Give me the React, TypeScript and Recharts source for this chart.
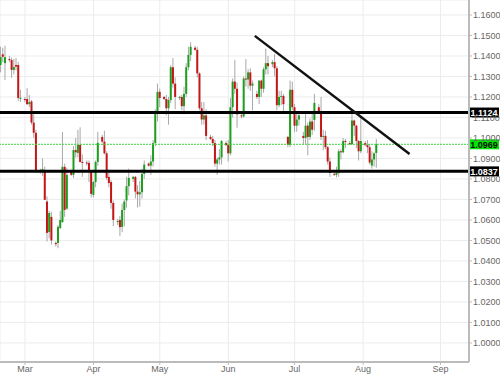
import React from 'react';
import {
  ComposedChart, Bar, XAxis, YAxis, CartesianGrid, ReferenceLine,
} from 'recharts';

// EUR/USD daily candles (incl. short Sunday sessions)
const dates = [
  '2015-02-18', '2015-02-19', '2015-02-20', '2015-02-22', '2015-02-23', '2015-02-24', '2015-02-25', '2015-02-26', '2015-02-27',
  '2015-03-01', '2015-03-02', '2015-03-03', '2015-03-04', '2015-03-05', '2015-03-06', '2015-03-08', '2015-03-09', '2015-03-10',
  '2015-03-11', '2015-03-12', '2015-03-13', '2015-03-15', '2015-03-16', '2015-03-17', '2015-03-18', '2015-03-19', '2015-03-20',
  '2015-03-22', '2015-03-23', '2015-03-24', '2015-03-25', '2015-03-26', '2015-03-27', '2015-03-29', '2015-03-30', '2015-03-31',
  '2015-04-01', '2015-04-02', '2015-04-03', '2015-04-05', '2015-04-06', '2015-04-07', '2015-04-08', '2015-04-09', '2015-04-10',
  '2015-04-12', '2015-04-13', '2015-04-14', '2015-04-15', '2015-04-16', '2015-04-17', '2015-04-19', '2015-04-20', '2015-04-21',
  '2015-04-22', '2015-04-23', '2015-04-24', '2015-04-26', '2015-04-27', '2015-04-28', '2015-04-29', '2015-04-30', '2015-05-01',
  '2015-05-03', '2015-05-04', '2015-05-05', '2015-05-06', '2015-05-07', '2015-05-08', '2015-05-10', '2015-05-11', '2015-05-12',
  '2015-05-13', '2015-05-14', '2015-05-15', '2015-05-17', '2015-05-18', '2015-05-19', '2015-05-20', '2015-05-21', '2015-05-22',
  '2015-05-24', '2015-05-25', '2015-05-26', '2015-05-27', '2015-05-28', '2015-05-29', '2015-05-31', '2015-06-01', '2015-06-02',
  '2015-06-03', '2015-06-04', '2015-06-05', '2015-06-07', '2015-06-08', '2015-06-09', '2015-06-10', '2015-06-11', '2015-06-12',
  '2015-06-14', '2015-06-15', '2015-06-16', '2015-06-17', '2015-06-18', '2015-06-19', '2015-06-21', '2015-06-22', '2015-06-23',
  '2015-06-24', '2015-06-25', '2015-06-26', '2015-06-28', '2015-06-29', '2015-06-30', '2015-07-01', '2015-07-02', '2015-07-03',
  '2015-07-05', '2015-07-06', '2015-07-07', '2015-07-08', '2015-07-09', '2015-07-10', '2015-07-12', '2015-07-13', '2015-07-14',
  '2015-07-15', '2015-07-16', '2015-07-17', '2015-07-19', '2015-07-20', '2015-07-21', '2015-07-22', '2015-07-23', '2015-07-24',
  '2015-07-26', '2015-07-27', '2015-07-28', '2015-07-29', '2015-07-30', '2015-07-31', '2015-08-02', '2015-08-03', '2015-08-04',
  '2015-08-05', '2015-08-06', '2015-08-07',
];
const opens = [
  1.1356, 1.1408, 1.1365, 1.1385, 1.1380, 1.1332, 1.1356, 1.1356, 1.1195,
  1.1190, 1.1190, 1.1165, 1.1178, 1.1075, 1.1025, 1.0838, 1.0843, 1.0844,
  1.0690, 1.0541, 1.0615, 1.0488, 1.0488, 1.0561, 1.0590, 1.0859, 1.0655,
  1.0834, 1.0820, 1.0941, 1.0927, 1.0966, 1.0883, 1.0880, 1.0878, 1.0834,
  1.0722, 1.0785, 1.0883, 1.1005, 1.0982, 1.0925, 1.0810, 1.0785, 1.0683,
  1.0590, 1.0600, 1.0566, 1.0649, 1.0695, 1.0765, 1.0800, 1.0810, 1.0738,
  1.0725, 1.0735, 1.0825, 1.0875, 1.0865, 1.0885, 1.0975, 1.1125, 1.1225,
  1.1200, 1.1190, 1.1145, 1.1185, 1.1345, 1.1265, 1.1195, 1.1200, 1.1155,
  1.1215, 1.1345, 1.1405, 1.1440, 1.1430, 1.1315, 1.1145, 1.1090, 1.1110,
  1.1005, 1.0995, 1.0975, 1.0875, 1.0895, 1.0905, 1.0975, 1.0965, 1.0925,
  1.1150, 1.1275, 1.1240, 1.1110, 1.1105, 1.1290, 1.1285, 1.1320, 1.1255,
  1.1215, 1.1200, 1.1280, 1.1240, 1.1335, 1.1365, 1.1360, 1.1370, 1.1340,
  1.1160, 1.1200, 1.1205, 1.1005, 1.0966, 1.1235, 1.1150, 1.1060, 1.1090,
  1.1010, 1.1000, 1.1060, 1.1005, 1.1080, 1.1088, 1.1150, 1.1130, 1.1005,
  1.1010, 1.0955, 1.0885, 1.0825, 1.0820, 1.0830, 1.0935, 1.0930, 1.0985,
  1.0975, 1.0970, 1.1085, 1.1060, 1.0985, 1.0935, 1.0975, 1.0965, 1.0955,
  1.0865, 1.0895, 1.0927,
];
const highs = [
  1.1445, 1.1440, 1.1450, 1.1400, 1.1392, 1.1385, 1.1390, 1.1370, 1.1235,
  1.1200, 1.1243, 1.1210, 1.1185, 1.1115, 1.1040, 1.0850, 1.0900, 1.0860,
  1.0715, 1.0645, 1.0640, 1.0495, 1.0575, 1.0645, 1.1029, 1.0875, 1.0855,
  1.0845, 1.0960, 1.1000, 1.1040, 1.1052, 1.0920, 1.0890, 1.0890, 1.0840,
  1.0790, 1.0890, 1.1030, 1.1015, 1.1035, 1.0935, 1.0845, 1.0795, 1.0695,
  1.0605, 1.0620, 1.0680, 1.0700, 1.0810, 1.0850, 1.0815, 1.0815, 1.0770,
  1.0790, 1.0850, 1.0890, 1.0880, 1.0915, 1.0990, 1.1140, 1.1265, 1.1240,
  1.1205, 1.1210, 1.1200, 1.1355, 1.1390, 1.1295, 1.1205, 1.1210, 1.1250,
  1.1365, 1.1445, 1.1467, 1.1450, 1.1445, 1.1320, 1.1175, 1.1175, 1.1140,
  1.1015, 1.1010, 1.0990, 1.0905, 1.0945, 1.0990, 1.0985, 1.0990, 1.1195,
  1.1290, 1.1380, 1.1270, 1.1125, 1.1300, 1.1385, 1.1335, 1.1340, 1.1280,
  1.1230, 1.1280, 1.1285, 1.1345, 1.1436, 1.1400, 1.1380, 1.1410, 1.1350,
  1.1230, 1.1230, 1.1215, 1.1010, 1.1280, 1.1275, 1.1165, 1.1120, 1.1130,
  1.1030, 1.1120, 1.1075, 1.1095, 1.1125, 1.1215, 1.1165, 1.1200, 1.1040,
  1.1035, 1.0960, 1.0905, 1.0835, 1.0860, 1.0945, 1.0945, 1.1000, 1.0995,
  1.0985, 1.1128, 1.1090, 1.1065, 1.0990, 1.1110, 1.0985, 1.0990, 1.0970,
  1.0935, 1.0930, 1.0995,
];
const lows = [
  1.1320, 1.1370, 1.1283, 1.1370, 1.1293, 1.1310, 1.1330, 1.1180, 1.1175,
  1.1175, 1.1160, 1.1150, 1.1065, 1.1000, 1.0840, 1.0825, 1.0815, 1.0700,
  1.0495, 1.0510, 1.0480, 1.0470, 1.0462, 1.0555, 1.0585, 1.0615, 1.0650,
  1.0815, 1.0805, 1.0905, 1.0905, 1.0880, 1.0810, 1.0865, 1.0785, 1.0710,
  1.0710, 1.0760, 1.0865, 1.0975, 1.0920, 1.0795, 1.0760, 1.0655, 1.0570,
  1.0575, 1.0521, 1.0540, 1.0570, 1.0660, 1.0720, 1.0785, 1.0705, 1.0660,
  1.0665, 1.0705, 1.0800, 1.0860, 1.0820, 1.0860, 1.0960, 1.1080, 1.1150,
  1.1185, 1.1110, 1.1065, 1.1170, 1.1245, 1.1140, 1.1185, 1.1135, 1.1115,
  1.1200, 1.1330, 1.1375, 1.1425, 1.1295, 1.1135, 1.1065, 1.1065, 1.0990,
  1.0990, 1.0960, 1.0860, 1.0820, 1.0870, 1.0870, 1.0960, 1.0885, 1.0915,
  1.1100, 1.1215, 1.1050, 1.1095, 1.1100, 1.1250, 1.1240, 1.1230, 1.1135,
  1.1190, 1.1165, 1.1200, 1.1220, 1.1310, 1.1310, 1.1345, 1.1300, 1.1135,
  1.1150, 1.1160, 1.1125, 1.0955, 1.0955, 1.1135, 1.1030, 1.1030, 1.1060,
  1.0970, 1.0970, 1.0915, 1.0990, 1.1015, 1.1035, 1.1120, 1.0990, 1.0940,
  1.0945, 1.0870, 1.0810, 1.0815, 1.0808, 1.0810, 1.0895, 1.0925, 1.0950,
  1.0965, 1.0965, 1.1010, 1.0950, 1.0890, 1.0925, 1.0960, 1.0925, 1.0870,
  1.0850, 1.0860, 1.0855,
];
const closes = [
  1.1395, 1.1396, 1.1394, 1.1380, 1.1332, 1.1346, 1.1348, 1.1195, 1.1196,
  1.1185, 1.1165, 1.1175, 1.1075, 1.1025, 1.0842, 1.0843, 1.0848, 1.0698,
  1.0537, 1.0634, 1.0500, 1.0482, 1.0566, 1.0600, 1.0859, 1.0649, 1.0820,
  1.0820, 1.0941, 1.0930, 1.0966, 1.0883, 1.0880, 1.0878, 1.0835, 1.0727,
  1.0785, 1.0883, 1.0976, 1.0982, 1.0925, 1.0805, 1.0780, 1.0683, 1.0600,
  1.0595, 1.0565, 1.0649, 1.0690, 1.0765, 1.0805, 1.0810, 1.0738, 1.0725,
  1.0735, 1.0825, 1.0870, 1.0865, 1.0885, 1.0975, 1.1125, 1.1225, 1.1195,
  1.1190, 1.1145, 1.1185, 1.1345, 1.1265, 1.1200, 1.1200, 1.1155, 1.1215,
  1.1345, 1.1405, 1.1445, 1.1430, 1.1315, 1.1145, 1.1090, 1.1110, 1.1010,
  1.0995, 1.0975, 1.0875, 1.0895, 1.0905, 1.0985, 1.0965, 1.0925, 1.1150,
  1.1275, 1.1240, 1.1115, 1.1105, 1.1290, 1.1285, 1.1320, 1.1255, 1.1265,
  1.1200, 1.1280, 1.1240, 1.1335, 1.1365, 1.1350, 1.1370, 1.1340, 1.1160,
  1.1200, 1.1205, 1.1165, 1.0966, 1.1235, 1.1150, 1.1060, 1.1090, 1.1110,
  1.1000, 1.1060, 1.1005, 1.1080, 1.1040, 1.1171, 1.1130, 1.1005, 1.1010,
  1.0955, 1.0885, 1.0830, 1.0820, 1.0830, 1.0935, 1.0930, 1.0985, 1.0980,
  1.0970, 1.1085, 1.1060, 1.0985, 1.0935, 1.0985, 1.0965, 1.0955, 1.0880,
  1.0895, 1.0925, 1.0969,
];

// month labels on the time axis
const monthDates = ['2015-03-01', '2015-04-01', '2015-05-01', '2015-06-01', '2015-07-01', '2015-08-01', '2015-09-05'];
const monthLabels = ['Mar', 'Apr', 'May', 'Jun', 'Jul', 'Aug', 'Sep'];

const priceTicks = [1.0, 1.01, 1.02, 1.03, 1.04, 1.05, 1.06, 1.07, 1.08, 1.09, 1.1, 1.11, 1.12, 1.13, 1.14, 1.15, 1.16];

const resistance = 1.1124;
const support = 1.0837;
const lastPrice = 1.0969;
const trendStart = { date: '2015-06-13', price: 1.1498 };
const trendEnd = { date: '2015-08-22', price: 1.0922 };

const BASE = Date.UTC(2015, 2, 1);
const toDay = (d: string) => (Date.parse(d) - BASE) / 86400000;

const data = dates.map((d, i) => ({
  day: toDay(d),
  open: opens[i],
  high: highs[i],
  low: lows[i],
  close: closes[i],
  range: [lows[i], highs[i]],
}));

const monthTicks = monthDates.map(toDay);
const FONT = 'Arial, "Liberation Sans", sans-serif';

const Candle = (props: any) => {
  const { x, y, width, height, payload } = props;
  if (x == null || y == null) return null;
  const { open, close, high, low } = payload;
  const span = high - low;
  const ratio = span > 0 ? height / span : 0;
  const top = y + (high - Math.max(open, close)) * ratio;
  const bodyH = Math.max(1, Math.abs(open - close) * ratio);
  const up = close >= open;
  const cx = x + width / 2;
  return (
    <g>
      <line x1={cx} x2={cx} y1={y} y2={y + height} stroke="#a8a8a8" strokeWidth={1} />
      <rect x={x} y={top} width={width} height={bodyH} fill={up ? '#1e9e1e' : '#c41616'} />
    </g>
  );
};

const priceTag = (value: number, bg: string, fg: string) => (props: any) => {
  const vb = props.viewBox || {};
  const left = vb.x + vb.width;
  return (
    <g>
      <rect x={left} y={vb.y - 5} width={30} height={10} fill={bg} />
      <text x={left + 15} y={vb.y + 3.5} textAnchor="middle" fontSize={9} fontWeight="bold" fill={fg} fontFamily={FONT}>
        {value.toFixed(4)}
      </text>
    </g>
  );
};

export default function App() {
  return (
    <div style={{ position: 'absolute', left: 0, top: 0, fontFamily: FONT, background: '#fff' }}>
      <ComposedChart width={500} height={377} data={data} margin={{ top: 0, right: 0, bottom: 0, left: 0 }}>
        <CartesianGrid stroke="#ececec" />
        <XAxis
          dataKey="day"
          type="number"
          domain={[-11.3, 200.9]}
          allowDataOverflow
          ticks={monthTicks}
          tickFormatter={(v: number) => monthLabels[monthTicks.indexOf(v)] || ''}
          height={15}
          tickSize={3}
          tickMargin={1}
          tick={{ fontSize: 9, fill: '#666', fontFamily: FONT }}
          axisLine={{ stroke: '#bbb', strokeWidth: 2 }}
          tickLine={{ stroke: '#bbb' }}
        />
        <YAxis
          orientation="right"
          type="number"
          domain={[0.9907, 1.1673]}
          allowDataOverflow
          ticks={priceTicks}
          tickFormatter={(v: number) => v.toFixed(4)}
          width={31}
          tickSize={3}
          tickMargin={1}
          interval={0}
          tick={{ fontSize: 9, fill: '#666', fontFamily: FONT, textAnchor: 'start' }}
          axisLine={{ stroke: '#bbb', strokeWidth: 2 }}
          tickLine={{ stroke: '#bbb' }}
        />
        <Bar dataKey="range" barSize={2} shape={<Candle />} isAnimationActive={false} />
        <ReferenceLine y={lastPrice} stroke="#3fd43f" strokeDasharray="2 1" strokeWidth={1} label={priceTag(lastPrice, '#00e600', '#111')} />
        <ReferenceLine y={resistance} stroke="#000" strokeWidth={3} label={priceTag(resistance, '#000', '#fff')} />
        <ReferenceLine y={support} stroke="#000" strokeWidth={3} label={priceTag(support, '#000', '#fff')} />
        <ReferenceLine
          segment={[
            { x: toDay(trendStart.date), y: trendStart.price },
            { x: toDay(trendEnd.date), y: trendEnd.price },
          ]}
          stroke="#111"
          strokeWidth={2.5}
          ifOverflow="visible"
        />
      </ComposedChart>
    </div>
  );
}
